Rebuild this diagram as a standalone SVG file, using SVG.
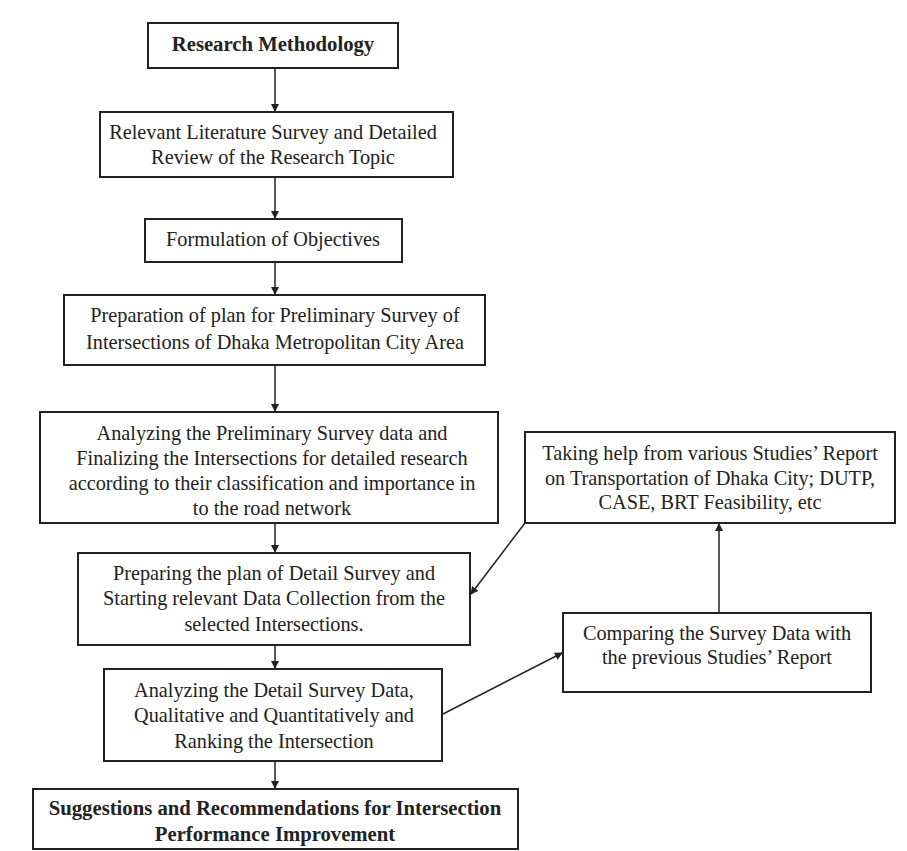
<svg xmlns="http://www.w3.org/2000/svg" width="907" height="851" viewBox="0 0 907 851">
<defs>
<marker id="ah" markerWidth="8" markerHeight="8" refX="7" refY="4" orient="auto" markerUnits="userSpaceOnUse">
<path d="M0,0 L8,4 L0,8 Z" fill="#222"/>
</marker>
<style>
.box{fill:#fff;stroke:#222;stroke-width:2}
text{font-family:"Liberation Serif","Times New Roman",serif;font-size:20.3px;fill:#222;text-anchor:middle}
.b{font-weight:bold;font-size:20.7px}
.c{stroke:#222;stroke-width:1.5;fill:none;marker-end:url(#ah)}
</style>
</defs>
<rect width="907" height="851" fill="#fff"/>
<g id="connectors">
<line class="c" x1="275" y1="68" x2="275" y2="111"/>
<line class="c" x1="275" y1="177" x2="275" y2="218"/>
<line class="c" x1="275" y1="262" x2="275" y2="294"/>
<line class="c" x1="275" y1="365" x2="275" y2="411"/>
<line class="c" x1="275" y1="523" x2="275" y2="552"/>
<line class="c" x1="275" y1="645" x2="275" y2="668"/>
<line class="c" x1="275" y1="761" x2="275" y2="788"/>
<line class="c" x1="719" y1="613" x2="719" y2="524"/>
<line class="c" x1="525" y1="523" x2="471" y2="594"/>
<line class="c" x1="443" y1="714" x2="562" y2="653"/>
</g>
<g id="n1"><rect class="box" x="148" y="23" width="250" height="45"/><text class="b" x="273" y="51">Research Methodology</text></g>
<g id="n2"><rect class="box" x="100" y="112" width="353" height="65"/><text x="273" y="139">Relevant Literature Survey and Detailed</text><text x="273" y="164">Review of the Research Topic</text></g>
<g id="n3"><rect class="box" x="145" y="219" width="257" height="43"/><text x="273" y="246">Formulation of Objectives</text></g>
<g id="n4"><rect class="box" x="64" y="295" width="421" height="70"/><text x="275" y="322">Preparation of plan for Preliminary Survey of</text><text x="275" y="349">Intersections of Dhaka Metropolitan City Area</text></g>
<g id="n5"><rect class="box" x="40" y="412" width="458" height="111"/><text x="272" y="440">Analyzing the Preliminary Survey data and</text><text x="272" y="465">Finalizing the Intersections for detailed research</text><text x="272" y="490">according to their classification and importance in</text><text x="272" y="515">to the road network</text></g>
<g id="n6"><rect class="box" x="78" y="553" width="392" height="92"/><text x="274" y="580">Preparing the plan of Detail Survey and</text><text x="274" y="605">Starting relevant Data Collection from the</text><text x="274" y="631">selected Intersections.</text></g>
<g id="n7"><rect class="box" x="104" y="669" width="338" height="92"/><text x="274" y="697">Analyzing the Detail Survey Data,</text><text x="274" y="722">Qualitative and Quantitatively and</text><text x="274" y="748">Ranking the Intersection</text></g>
<g id="n8"><rect class="box" x="33" y="789" width="485" height="60"/><text class="b" x="275" y="815">Suggestions and Recommendations for Intersection</text><text class="b" x="275" y="841">Performance Improvement</text></g>
<g id="n9"><rect class="box" x="525" y="432" width="370" height="91"/><text x="710" y="460">Taking help from various Studies’ Report</text><text x="710" y="485">on Transportation of Dhaka City; DUTP,</text><text x="710" y="509">CASE, BRT Feasibility, etc</text></g>
<g id="n10"><rect class="box" x="563" y="613" width="308" height="79"/><text x="717" y="640">Comparing the Survey Data with</text><text x="717" y="664">the previous Studies’ Report</text></g>
</svg>
